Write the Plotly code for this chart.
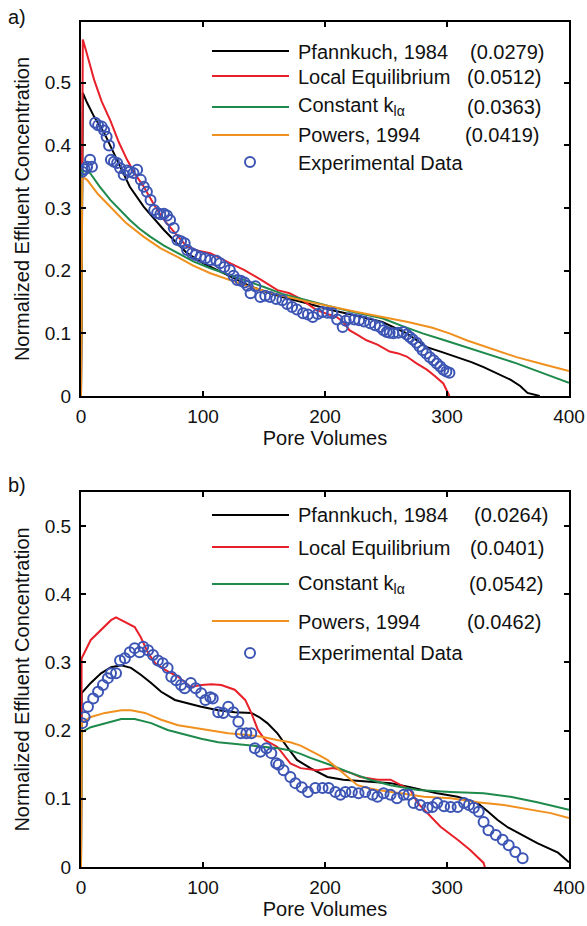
import plotly.graph_objects as go
from plotly.subplots import make_subplots

# ---- panel a) data ----
pf_a_x = [0, 1.5, 5, 10.7, 19, 29.6, 40, 51.5, 60, 68, 78, 87, 100, 112, 125, 139, 152, 165, 185, 206, 226, 247,
          267, 283.5, 296, 308, 320, 330, 341, 352, 360, 366, 376]
pf_a_y = [0, 0.484, 0.468, 0.446, 0.42, 0.377, 0.334, 0.302, 0.282, 0.265, 0.245, 0.228, 0.212, 0.201, 0.188,
          0.175, 0.166, 0.158, 0.148, 0.137, 0.128, 0.118, 0.10, 0.078, 0.07, 0.062, 0.054, 0.046, 0.036, 0.026,
          0.016, 0.005, 0.0]

le_a_x = [0, 1.5, 5, 10.7, 17, 24, 31, 37.8, 44, 51.5, 60, 68, 78, 87, 96, 106, 120, 134, 148, 161, 171, 180,
          193, 201, 209.5, 215, 220, 227, 234, 243, 253, 260, 267, 275, 283.5, 290, 297, 302]
le_a_y = [0, 0.569, 0.545, 0.505, 0.47, 0.44, 0.405, 0.377, 0.355, 0.334, 0.305, 0.281, 0.258, 0.238, 0.232,
          0.228, 0.214, 0.201, 0.185, 0.169, 0.164, 0.155, 0.137, 0.132, 0.126, 0.118, 0.105, 0.097, 0.089,
          0.082, 0.071, 0.068, 0.063, 0.052, 0.042, 0.032, 0.02, 0.0]

ck_a_x = [0, 1, 7.4, 15, 24, 32, 40, 48, 57, 68, 79, 92, 106, 120, 134, 150, 165, 185, 206, 226, 247, 263, 280,
          298, 316, 336, 357, 378, 400]
ck_a_y = [0, 0.36, 0.356, 0.335, 0.313, 0.297, 0.281, 0.267, 0.254, 0.24, 0.228, 0.215, 0.204, 0.194, 0.185,
          0.174, 0.163, 0.153, 0.142, 0.133, 0.124, 0.112, 0.10, 0.089, 0.078, 0.065, 0.052, 0.037, 0.021]

pw_a_x = [0, 1, 5, 14, 24, 37, 51.5, 65, 79, 92, 106, 120, 134, 150, 165, 185, 206, 226, 247, 268, 288, 302,
          316, 336, 357, 378, 400]
pw_a_y = [0, 0.35, 0.345, 0.322, 0.302, 0.276, 0.254, 0.236, 0.222, 0.208, 0.196, 0.186, 0.177, 0.168, 0.16,
          0.151, 0.142, 0.134, 0.126, 0.118, 0.109, 0.1, 0.089, 0.076, 0.062, 0.051, 0.04]

exp_a_x = [1, 3, 5, 7.4, 9, 11.6, 14, 17, 19, 21, 23, 24.5, 27, 29.6, 32, 35, 37.5, 40, 43, 46, 49, 51.5, 54,
           57, 60, 62.4, 65, 68, 70.5, 73, 76, 79, 82, 85, 87, 91, 94, 98, 102, 106, 111, 114, 117.5, 122, 125,
           128, 131, 134, 136.5, 139, 143, 147, 151, 155, 160, 165, 169, 173, 177, 182, 186, 190, 194, 198, 202,
           206, 210, 214.5, 217, 220, 224, 228, 232, 237, 241, 245, 248, 250.6, 253, 256, 260, 264, 267, 269.5,
           272, 275, 277.5, 280, 283, 286, 289, 291.7, 294.5, 297, 299.5, 302]
exp_a_y = [0.358, 0.362, 0.366, 0.377, 0.366, 0.436, 0.432, 0.43, 0.424, 0.414, 0.40, 0.377, 0.374, 0.372,
           0.364, 0.353, 0.36, 0.358, 0.356, 0.361, 0.345, 0.334, 0.326, 0.313, 0.297, 0.292, 0.29, 0.291, 0.288,
           0.281, 0.268, 0.249, 0.247, 0.244, 0.233, 0.228, 0.225, 0.222, 0.22, 0.217, 0.216, 0.212, 0.206,
           0.201, 0.192, 0.185, 0.184, 0.181, 0.176, 0.164, 0.175, 0.158, 0.16, 0.158, 0.155, 0.153, 0.147,
           0.142, 0.138, 0.132, 0.13, 0.126, 0.131, 0.134, 0.133, 0.132, 0.122, 0.11, 0.12, 0.124, 0.122, 0.121,
           0.119, 0.116, 0.113, 0.11, 0.105, 0.102, 0.101, 0.10, 0.101, 0.102, 0.098, 0.094, 0.09, 0.085, 0.079,
           0.073, 0.068, 0.062, 0.057, 0.052, 0.047, 0.042, 0.039, 0.037]

# ---- panel b) data ----
pf_b_x = [0, 0.5, 8, 16.4, 24.6, 33, 41, 49, 57.5, 65.7, 77, 88, 98.5, 112.5, 126, 139.6, 146, 152.7, 161, 169,
          177, 188, 202, 215, 234.6, 253.7, 270, 292, 308.7, 325, 333, 341.5, 350, 358, 374, 391, 400]
pf_b_y = [0, 0.255, 0.27, 0.284, 0.293, 0.296, 0.292, 0.282, 0.27, 0.257, 0.245, 0.24, 0.235, 0.23, 0.227,
          0.226, 0.22, 0.211, 0.196, 0.176, 0.157, 0.145, 0.132, 0.128, 0.125, 0.123, 0.117, 0.108, 0.103, 0.094,
          0.082, 0.069, 0.058, 0.05, 0.035, 0.021, 0.007]

le_b_x = [0, 0.5, 8, 16, 24.6, 28.7, 36, 44, 49, 55, 60.7, 69, 79.6, 90, 98.5, 107, 115, 126, 134.6, 139.6, 145,
          151, 161, 171.6, 180, 193.6, 207, 221, 229, 243, 253.7, 262, 270, 275.9, 284, 294.7, 308.7, 319, 330,
          331]
le_b_y = [0, 0.306, 0.333, 0.347, 0.362, 0.366, 0.359, 0.352, 0.337, 0.314, 0.299, 0.289, 0.279, 0.264, 0.267,
          0.268, 0.267, 0.26, 0.245, 0.226, 0.201, 0.186, 0.176, 0.152, 0.145, 0.142, 0.145, 0.138, 0.132, 0.128,
          0.128, 0.12, 0.113, 0.094, 0.079, 0.059, 0.04, 0.025, 0.006, 0.0]

ck_b_x = [0, 0.5, 8, 19.7, 33, 44, 57.5, 71, 85, 98.5, 112.5, 129, 145, 161.7, 171.6, 180, 188, 204, 221, 237,
          253.7, 276, 303, 330, 352, 374, 400]
ck_b_y = [0, 0.198, 0.205, 0.211, 0.217, 0.217, 0.211, 0.201, 0.194, 0.188, 0.183, 0.18, 0.177, 0.174, 0.171,
          0.166, 0.16, 0.15, 0.138, 0.128, 0.12, 0.113, 0.11, 0.108, 0.103, 0.095, 0.084]

pw_b_x = [0, 0.5, 8, 19.7, 33, 41, 52.5, 65.7, 79.6, 93.6, 107, 120.7, 134.6, 148, 161.7, 171.6, 180, 188, 195,
          202, 208, 215, 221, 226.6, 235, 243, 262, 281, 303, 325, 346.5, 368.6, 385, 400]
pw_b_y = [0, 0.211, 0.22, 0.226, 0.23, 0.23, 0.226, 0.216, 0.208, 0.204, 0.2, 0.196, 0.194, 0.191, 0.186,
          0.183, 0.178, 0.171, 0.164, 0.157, 0.148, 0.138, 0.128, 0.12, 0.116, 0.113, 0.108, 0.103, 0.101,
          0.095, 0.091, 0.084, 0.079, 0.072]

exp_b_x = [1, 3, 5.7, 10, 14, 18, 22, 24.6, 28.7, 32, 36, 40, 44, 48, 51, 55, 59, 63, 67, 71, 74, 78, 82, 85,
           90, 94, 98.5, 102, 106, 108, 112.5, 116.6, 120.7, 124.8, 129, 131, 135.5, 139.6, 142.5, 147, 152, 156,
           160, 162, 166, 171.6, 175.7, 181, 186, 192, 198, 203, 208.5, 212.6, 216.7, 222, 227.5, 233, 239, 243,
           248, 253.7, 259, 264.5, 268.5, 272.6, 278, 284, 288, 292, 297.6, 303, 308.7, 314, 318, 322, 326, 330,
           334, 340, 345.6, 350.6, 356, 362]
exp_b_y = [0.211, 0.22, 0.235, 0.247, 0.257, 0.267, 0.277, 0.284, 0.284, 0.303, 0.306, 0.315, 0.321, 0.315,
           0.323, 0.318, 0.311, 0.303, 0.299, 0.292, 0.279, 0.274, 0.267, 0.262, 0.27, 0.262, 0.255, 0.245,
           0.249, 0.247, 0.227, 0.226, 0.235, 0.227, 0.213, 0.196, 0.196, 0.196, 0.174, 0.169, 0.174, 0.167,
           0.152, 0.15, 0.142, 0.132, 0.123, 0.117, 0.11, 0.116, 0.116, 0.116, 0.11, 0.106, 0.11, 0.11, 0.108,
           0.11, 0.106, 0.103, 0.108, 0.106, 0.101, 0.106, 0.106, 0.094, 0.091, 0.087, 0.088, 0.094, 0.089,
           0.088, 0.088, 0.094, 0.091, 0.087, 0.081, 0.066, 0.054, 0.047, 0.04, 0.032, 0.022, 0.013]

names = ['Pfannkuch, 1984', 'Local Equilibrium', 'Constant k<sub>lα</sub>', 'Powers, 1994', 'Experimental Data']
errors_a = ['(0.0279)', '(0.0512)', '(0.0363)', '(0.0419)']
errors_b = ['(0.0264)', '(0.0401)', '(0.0542)', '(0.0462)']
colors = ['#000000', '#E8202A', '#1E8A4C', '#F0901E']
blue = '#3C55B4'
FONT = 'Liberation Sans, Arial, sans-serif'

fig = make_subplots(rows=2, cols=1, vertical_spacing=0.1)
fig.update_layout(width=587, height=926, margin=dict(l=81, r=18, t=22, b=59, autoexpand=False),
                  paper_bgcolor='white', plot_bgcolor='white', showlegend=False,
                  font=dict(family=FONT, size=19, color='#111'))
fig.update_yaxes(domain=[0.5574, 1.0], row=1, col=1)
fig.update_yaxes(domain=[0.0, 0.4438], row=2, col=1)

panels = [
    (1, [(pf_a_x, pf_a_y), (le_a_x, le_a_y), (ck_a_x, ck_a_y), (pw_a_x, pw_a_y)], (exp_a_x, exp_a_y)),
    (2, [(pf_b_x, pf_b_y), (le_b_x, le_b_y), (ck_b_x, ck_b_y), (pw_b_x, pw_b_y)], (exp_b_x, exp_b_y)),
]
for row, curves, exp in panels:
    for (cx, cy), col, nm in zip(curves, colors, names):
        fig.add_trace(go.Scatter(x=cx, y=cy, mode='lines', name=nm,
                                 line=dict(color=col, width=2)), row=row, col=1)
    fig.add_trace(go.Scatter(x=exp[0], y=exp[1], mode='markers', name=names[4],
                             marker=dict(symbol='circle-open', size=10, color=blue,
                                         line=dict(color=blue, width=2))), row=row, col=1)

axis_common = dict(showline=True, linecolor='black', linewidth=2, mirror='ticks', ticks='inside',
                   ticklen=5, tickwidth=1.5, tickcolor='black', showgrid=False, zeroline=False,
                   automargin=False, tickfont=dict(size=19))
for row in (1, 2):
    fig.update_xaxes(range=[0, 400], tickvals=[0, 100, 200, 300, 400], ticklabelstandoff=2,
                     title=dict(text='Pore Volumes', font=dict(size=20), standoff=4),
                     row=row, col=1, **axis_common)
fig.update_yaxes(range=[0, 0.597], row=1, col=1)
fig.update_yaxes(range=[0, 0.55], row=2, col=1)
fig.update_yaxes(tickvals=[0, 0.1, 0.2, 0.3, 0.4, 0.5], ticktext=['0', '0.1', '0.2', '0.3', '0.4', '0.5'],
                 ticklabelstandoff=4,
                 title=dict(text='Normalized Effluent Concentration', font=dict(size=20), standoff=10),
                 **axis_common)


# reference-picture pixels -> paper coordinates
def px_x(px):
    return (px - 81) / 488.0


def px_y(py):
    return (867 - py) / 845.0


# hand-made legends (long line samples, aligned error column)
legends = [
    dict(rows=[51, 76, 107, 135, 162], text_rows=[52, 77, 107, 135, 163], err_x=[468, 465, 465, 463],
         errors=errors_a, label='a)', label_y=17),
    dict(rows=[515, 547, 584, 621, 653], text_rows=[515, 548, 584, 622, 653], err_x=[472, 468, 467, 465],
         errors=errors_b, label='b)', label_y=485),
]
for lg in legends:
    for i in range(4):
        fig.add_shape(type='line', xref='paper', yref='paper', x0=px_x(212), x1=px_x(289),
                      y0=px_y(lg['rows'][i]), y1=px_y(lg['rows'][i]), line=dict(color=colors[i], width=2))
        fig.add_annotation(xref='paper', yref='paper', x=px_x(lg['err_x'][i]), y=px_y(lg['text_rows'][i]),
                           text=lg['errors'][i], showarrow=False, xanchor='left', yanchor='middle',
                           font=dict(size=20))
    fig.add_shape(type='circle', xref='paper', yref='paper', xsizemode='pixel', ysizemode='pixel',
                  xanchor=px_x(250), yanchor=px_y(lg['rows'][4]), x0=-5, x1=5, y0=-5, y1=5,
                  line=dict(color=blue, width=2))
    for i in range(5):
        fig.add_annotation(xref='paper', yref='paper', x=px_x(296), y=px_y(lg['text_rows'][i]),
                           text=names[i], showarrow=False, xanchor='left', yanchor='middle',
                           font=dict(size=20))
    fig.add_annotation(xref='paper', yref='paper', x=px_x(6), y=px_y(lg['label_y']), text=lg['label'],
                       showarrow=False, xanchor='left', yanchor='middle', font=dict(size=20))

# drop the default 8px page margin so the figure fills the window exactly; hide the modebar
fig.write_html("out.html", config={'displayModeBar': False},
               post_script="document.body.style.margin='0px';")
